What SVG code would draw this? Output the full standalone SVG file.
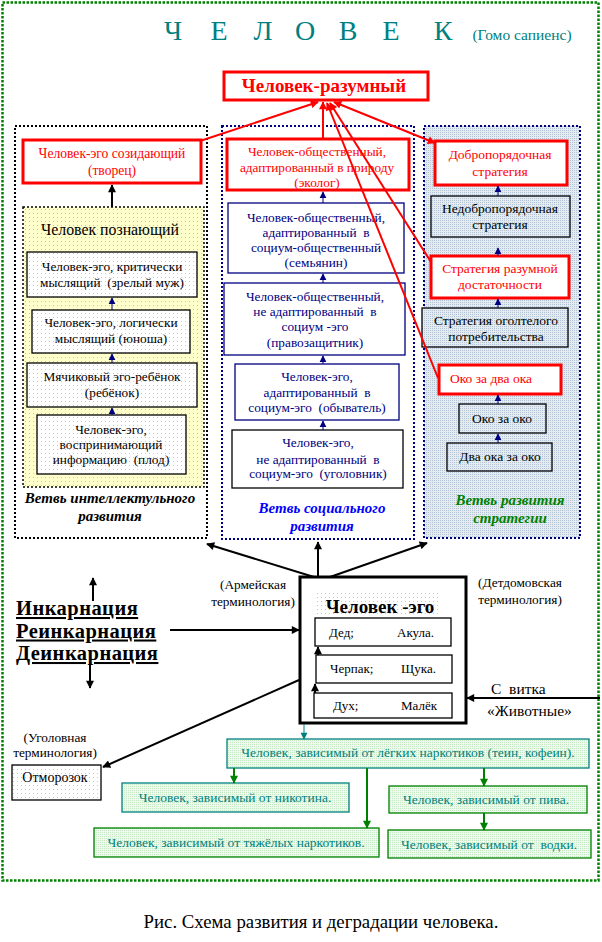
<svg xmlns="http://www.w3.org/2000/svg" width="602" height="942" viewBox="0 0 602 942" font-family="'Liberation Serif','Times New Roman',Tinos,'Nimbus Roman',serif">
<style>
text{font-family:"Liberation Serif","Times New Roman",Tinos,"Nimbus Roman",serif;}
.c{text-anchor:middle;}
.t12{font-size:13.3px;}
.t13{font-size:13.5px;}
.t14{font-size:13.5px;}
.red{fill:#ff0000;}
.navy{fill:#000080;}
.teal{fill:#008080;}
.blk{fill:#000;}
.rbox{fill:#fff;stroke:#ff0000;stroke-width:3;}
.nbox{fill:#fff;stroke:#000080;stroke-width:1.3;}
.kbox{fill:url(#dotsW);stroke:#000;stroke-width:1.3;}
.kboxw{fill:#fff;stroke:#000;stroke-width:1.3;}
.gbox{fill:url(#dotsG);stroke:#008000;stroke-width:1.3;}
.tbox{fill:url(#dotsG);stroke:#008080;stroke-width:1.3;}
.br{font-weight:bold;font-style:italic;font-size:15px;}
.big{font-size:20.5px;font-weight:bold;text-decoration:underline;letter-spacing:0.45px;}
.rl{stroke:#ff0000;stroke-width:2;fill:none;}
.bl{stroke:#000;stroke-width:2;fill:none;}
.nl{stroke:#000080;stroke-width:1;fill:none;}
.gl{stroke:#008000;stroke-width:2;fill:none;}
</style>
<defs>
<pattern id="dotsW" width="4" height="4" patternUnits="userSpaceOnUse"><rect width="4" height="4" fill="#fff"/><rect x="1" y="1" width="1" height="1" fill="#c8c8c8"/></pattern>
<pattern id="dotsY" width="4" height="4" patternUnits="userSpaceOnUse"><rect width="4" height="4" fill="#ffffcc"/><rect x="1" y="1" width="1" height="1" fill="#c8c8a0"/></pattern>
<pattern id="dotsB" width="2" height="2" patternUnits="userSpaceOnUse"><rect width="2" height="2" fill="#e4ecf2"/><rect x="0" y="0" width="1" height="1" fill="#b4c4d4"/></pattern>
<pattern id="dotsG" width="2" height="2" patternUnits="userSpaceOnUse"><rect width="2" height="2" fill="#eefaee"/><rect x="0" y="0" width="1" height="1" fill="#c4e8c4"/></pattern>
<marker id="aR" viewBox="0 0 10 10" refX="9" refY="5" markerWidth="5" markerHeight="4" orient="auto-start-reverse" markerUnits="strokeWidth"><path d="M0,0L10,5L0,10z" fill="#ff0000"/></marker>
<marker id="aK" viewBox="0 0 10 10" refX="9" refY="5" markerWidth="4.5" markerHeight="4" orient="auto" markerUnits="strokeWidth"><path d="M0,0L10,5L0,10z" fill="#000"/></marker>
<marker id="aN" viewBox="0 0 10 10" refX="9" refY="5" markerWidth="7" markerHeight="8" orient="auto" markerUnits="strokeWidth"><path d="M0,0L10,5L0,10z" fill="#000080"/></marker>
<marker id="aG" viewBox="0 0 10 10" refX="9" refY="5" markerWidth="4.5" markerHeight="4" orient="auto" markerUnits="strokeWidth"><path d="M0,0L10,5L0,10z" fill="#008000"/></marker>
<marker id="aT" viewBox="0 0 10 10" refX="9" refY="5" markerWidth="8" markerHeight="7" orient="auto" markerUnits="strokeWidth"><path d="M0,0L10,5L0,10z" fill="#008080"/></marker>
</defs>
<rect width="602" height="942" fill="#fff"/>
<rect id="frame" x="2.5" y="2.5" width="596" height="878" fill="none" stroke="#008000" stroke-width="2.5" stroke-dasharray="2.5 1.5"/>
<g id="title">
<text x="173" y="40" class="c teal" font-size="28">Ч</text>
<text x="219" y="40" class="c teal" font-size="28">Е</text>
<text x="263" y="40" class="c teal" font-size="28">Л</text>
<text x="305" y="40" class="c teal" font-size="28">О</text>
<text x="348" y="40" class="c teal" font-size="28">В</text>
<text x="391" y="40" class="c teal" font-size="28">Е</text>
<text x="443" y="40" class="c teal" font-size="28">К</text>
<text x="522" y="40" class="c teal" font-size="15.5">(Гомо сапиенс)</text>
</g>
<g id="n-razumny">
<rect x="224" y="72" width="204" height="28" fill="#fff" stroke="#ff0000" stroke-width="3"/>
<text x="324" y="92" class="c red" font-size="19" font-weight="bold">Человек-разумный</text>
</g>
<g id="branch-intel">
<rect x="15" y="126" width="192" height="412" fill="#fff" stroke="#000" stroke-width="2" stroke-dasharray="2 2"/>
<text x="110" y="503" class="c br blk" font-size="15.4">Ветвь интеллектульного</text>
<text x="110" y="521" class="c br blk" font-size="15.4">развития</text>
</g>
<g id="branch-social">
<rect x="222" y="126" width="192" height="413" fill="#fff" stroke="#000080" stroke-width="2" stroke-dasharray="2 2"/>
<text x="322" y="513" class="c br" fill="#0000ff">Ветвь социального</text>
<text x="322" y="531" class="c br" fill="#0000ff">развития</text>
</g>
<g id="branch-strategy">
<rect x="424" y="126" width="156" height="412" fill="url(#dotsB)" stroke="#000080" stroke-width="2" stroke-dasharray="2 2"/>
<text x="510" y="505" class="c br" fill="#008000">Ветвь развития</text>
<text x="510" y="523" class="c br" fill="#008000">стратегии</text>
</g>
<g id="n-tvorec">
<rect x="23" y="140" width="178" height="43" class="rbox"/>
<text x="112" y="158" class="c red" font-size="13.6">Человек-эго созидающий</text>
<text x="112" y="175" class="c red" font-size="13.6">(творец)</text>
</g>
<g id="n-poznayushchiy">
<rect x="23" y="207" width="181" height="280" fill="url(#dotsY)" stroke="#000" stroke-width="1.5" stroke-dasharray="2 2"/>
<text x="110" y="235" class="c blk" font-size="15.8">Человек познающий</text>
</g>
<g id="n-kritich">
<rect x="27" y="252" width="170" height="45" class="kbox"/>
<text x="112" y="271" class="c t12 blk">Человек-эго, критически</text>
<text x="112" y="287" class="c t12 blk" xml:space="preserve">мыслящий  (зрелый муж)</text>
</g>
<g id="n-logich">
<rect x="32" y="310" width="158" height="43" class="kbox"/>
<text x="111" y="327" class="c t12 blk">Человек-эго, логически</text>
<text x="111" y="343" class="c t12 blk">мыслящий (юноша)</text>
</g>
<g id="n-rebenok">
<rect x="27" y="363" width="170" height="44" class="kbox"/>
<text x="112" y="381" class="c t12 blk">Мячиковый эго-ребёнок</text>
<text x="112" y="397" class="c t12 blk">(ребёнок)</text>
</g>
<g id="n-plod">
<rect x="37" y="415" width="149" height="59" class="kbox"/>
<text x="111" y="434" class="c t12 blk">Человек-эго,</text>
<text x="111" y="449" class="c t12 blk">воспринимающий</text>
<text x="111" y="464" class="c t12 blk" xml:space="preserve">информацию  (плод)</text>
</g>
<g id="n-ekolog">
<rect x="227" y="139" width="182" height="51" class="rbox"/>
<text x="317" y="156" class="c t12 red">Человек-общественный,</text>
<text x="317" y="172" class="c t12 red">адаптированный в природу</text>
<text x="317" y="187" class="c t12 red">(эколог)</text>
</g>
<g id="n-semyanin">
<rect x="228" y="203" width="176" height="70" class="nbox"/>
<text x="316" y="222" class="c t12 navy">Человек-общественный,</text>
<text x="316" y="237" class="c t12 navy" xml:space="preserve">адаптированный  в</text>
<text x="316" y="252" class="c t12 navy">социум-общественный</text>
<text x="316" y="267" class="c t12 navy">(семьянин)</text>
</g>
<g id="n-pravozashchitnik">
<rect x="224" y="283" width="181" height="72" class="nbox"/>
<text x="315" y="301" class="c t12 navy">Человек-общественный,</text>
<text x="315" y="316" class="c t12 navy" xml:space="preserve">не адаптированный  в</text>
<text x="315" y="331" class="c t12 navy">социум -эго</text>
<text x="315" y="347" class="c t12 navy">(правозащитник)</text>
</g>
<g id="n-obyvatel">
<rect x="235" y="364" width="164" height="56" class="nbox"/>
<text x="317" y="381" class="c t12 navy">Человек-эго,</text>
<text x="317" y="397" class="c t12 navy" xml:space="preserve">адаптированный  в</text>
<text x="317" y="412" class="c t12 navy" xml:space="preserve">социум-эго  (обыватель)</text>
</g>
<g id="n-ugolovnik">
<rect x="232" y="430" width="171" height="58" class="kboxw"/>
<text x="318" y="447" class="c t12 navy">Человек-эго,</text>
<text x="318" y="464" class="c t12 navy" xml:space="preserve">не адаптированный  в</text>
<text x="318" y="478" class="c t12 navy" xml:space="preserve">социум-эго  (уголовник)</text>
</g>
<g id="n-dobro">
<rect x="435" y="141" width="132" height="44" class="rbox"/>
<text x="500" y="159" class="c t13 red">Добропорядочная</text>
<text x="500" y="176" class="c t13 red">стратегия</text>
</g>
<g id="n-nedobro">
<rect x="431" y="196" width="139" height="41" fill="url(#dotsB)" stroke="#000" stroke-width="1.3"/>
<text x="500" y="213" class="c t13 blk">Недобропорядочная</text>
<text x="500" y="229" class="c t13 blk">стратегия</text>
</g>
<g id="n-razumnaya">
<rect x="431" y="256" width="138" height="42" class="rbox"/>
<text x="500" y="273" class="c t13 red">Стратегия разумной</text>
<text x="500" y="289" class="c t13 red">достаточности</text>
</g>
<g id="n-ogolteloe">
<rect x="422" y="308" width="146" height="39" fill="url(#dotsB)" stroke="#000" stroke-width="1.3"/>
<text x="496" y="325" class="c t13 blk">Стратегия оголтелого</text>
<text x="496" y="341" class="c t13 blk">потребительства</text>
</g>
<g id="n-oko2">
<rect x="439" y="365" width="122" height="29" class="rbox"/>
<text x="491" y="383" class="c t13 red">Око за два ока</text>
</g>
<g id="n-oko1">
<rect x="459" y="404" width="87" height="29" fill="url(#dotsB)" stroke="#000" stroke-width="1.3"/>
<text x="502" y="423" class="c t13 blk">Око за око</text>
</g>
<g id="n-dva-oka">
<rect x="447" y="443" width="105" height="28" fill="url(#dotsB)" stroke="#000" stroke-width="1.3"/>
<text x="500" y="461" class="c t13 blk">Два ока за око</text>
</g>
<g id="n-ego">
<rect x="300" y="577" width="166" height="146" fill="#fff" stroke="#000" stroke-width="3"/>
<rect x="315" y="592" width="125" height="25" fill="url(#dotsW)"/>
<text x="380" y="613" class="c blk" font-size="19" font-weight="bold">Человек -эго</text>
<rect x="315" y="618" width="136" height="28" fill="#fff" stroke="#000" stroke-width="1.3"/>
<text x="329" y="637" class="blk" font-size="13">Дед;</text>
<text x="397" y="637" class="blk" font-size="13">Акула.</text>
<rect x="316" y="655" width="136" height="28" fill="#fff" stroke="#000" stroke-width="1.3"/>
<text x="330" y="673" class="blk" font-size="13">Черпак;</text>
<text x="401" y="673" class="blk" font-size="13">Щука.</text>
<rect x="314" y="693" width="138" height="25" fill="#fff" stroke="#000" stroke-width="1.3"/>
<text x="333" y="710" class="blk" font-size="13">Дух;</text>
<text x="401" y="710" class="blk" font-size="13">Малёк</text>
</g>
<g id="labels">
<text x="253" y="589" class="c blk" font-size="13.3">(Армейская</text>
<text x="253" y="606" class="c blk" font-size="13.3">терминология)</text>
<text x="520" y="587" class="c blk" font-size="13.3">(Детдомовская</text>
<text x="520" y="604" class="c blk" font-size="13.3">терминология)</text>
<text x="55" y="742" class="c blk" font-size="13.3">(Уголовная</text>
<text x="55" y="757" class="c blk" font-size="13.3">терминология)</text>
<text x="491" y="694" class="blk" font-size="15.5" xml:space="preserve">С  витка</text>
<text x="487" y="716" class="blk" font-size="15.5">«Животные»</text>
<text x="16" y="615" class="blk big">Инкарнация</text>
<text x="16" y="637.5" class="blk big">Реинкарнация</text>
<text x="16" y="660" class="blk big">Деинкарнация</text>
</g>
<g id="n-otmorozok">
<rect x="12" y="765" width="89" height="35" class="kbox"/>
<text x="55" y="782" class="c blk" font-size="14">Отморозок</text>
</g>
<g id="n-legkie">
<rect x="227" y="739" width="362" height="29" class="tbox"/>
<text x="408" y="757" class="c teal t14">Человек, зависимый от лёгких наркотиков (теин, кофеин).</text>
</g>
<g id="n-nikotin">
<rect x="122" y="783" width="227" height="29" class="tbox"/>
<text x="235" y="802" class="c teal t14">Человек, зависимый от никотина.</text>
</g>
<g id="n-tyazh">
<rect x="94" y="828" width="285" height="29" class="gbox"/>
<text x="236" y="847" class="c teal t14">Человек, зависимый от тяжёлых наркотиков.</text>
</g>
<g id="n-pivo">
<rect x="389" y="786" width="198" height="27" class="gbox"/>
<text x="486" y="804" class="c teal t14">Человек, зависимый от пива.</text>
</g>
<g id="n-vodka">
<rect x="388" y="830" width="203" height="28" class="gbox"/>
<text x="489" y="849" class="c teal t14" xml:space="preserve">Человек, зависимый от  водки.</text>
</g>
<g id="connectors">
<path class="rl" d="M200,141L318,102" marker-end="url(#aR)"/>
<path class="rl" d="M323,139L323,102" marker-end="url(#aR)"/>
<path class="rl" d="M438,378L327,103" marker-end="url(#aR)"/>
<path class="rl" d="M431,262L330,103" marker-end="url(#aR)"/>
<path class="rl" d="M435,143L334,102" marker-start="url(#aR)" marker-end="url(#aR)"/>
<path class="bl" d="M112,207L112,185" marker-end="url(#aK)"/>
<path class="nl" d="M112,310L112,298" marker-end="url(#aN)"/>
<path class="nl" d="M112,363L112,354" marker-end="url(#aN)"/>
<path class="nl" d="M112,415L112,408" marker-end="url(#aN)"/>
<path class="nl" d="M323,203L323,192" marker-end="url(#aN)"/>
<path class="nl" d="M323,283L323,274" marker-end="url(#aN)"/>
<path class="nl" d="M323,364L323,356" marker-end="url(#aN)"/>
<path class="nl" d="M323,430L323,421" marker-end="url(#aN)"/>
<path class="nl" d="M498,196L498,186" marker-end="url(#aN)"/>
<path class="nl" d="M498,256L498,248" marker-end="url(#aN)"/>
<path class="nl" d="M498,308L498,299" marker-end="url(#aN)"/>
<path class="nl" d="M498,404L498,395" marker-end="url(#aN)"/>
<path class="nl" d="M498,443L498,434" marker-end="url(#aN)"/>
<path class="bl" d="M318,577L318,542" marker-end="url(#aK)"/>
<path class="bl" d="M314,577L207,544" marker-end="url(#aK)"/>
<path class="bl" d="M330,577L427,543" marker-end="url(#aK)"/>
<path class="bl" d="M318,655L318,647" stroke-width="1.5" marker-end="url(#aK)"/>
<path class="bl" d="M315,693L315,684" stroke-width="1.5" marker-end="url(#aK)"/>
<path class="bl" d="M93,601L93,578" stroke-width="3" marker-end="url(#aK)"/>
<path class="bl" d="M90,663L90,688" stroke-width="3" marker-end="url(#aK)"/>
<path class="bl" d="M170,630L299,630" marker-end="url(#aK)"/>
<path class="bl" d="M299,680L103,767" marker-end="url(#aK)"/>
<path class="bl" d="M600,698L467,698" marker-end="url(#aK)"/>
<path d="M304,724L304,739" stroke="#008080" stroke-width="1" fill="none" marker-end="url(#aT)"/>
<path class="gl" d="M234,768L234,783" marker-end="url(#aG)"/>
<path class="gl" d="M367,768L367,828" marker-end="url(#aG)"/>
<path class="gl" d="M484,768L484,786" marker-end="url(#aG)"/>
<path class="gl" d="M484,813L484,830" marker-end="url(#aG)"/>
</g>
<text x="321" y="928" class="c blk" font-size="18.8">Рис. Схема развития и деградации человека.</text>
</svg>
